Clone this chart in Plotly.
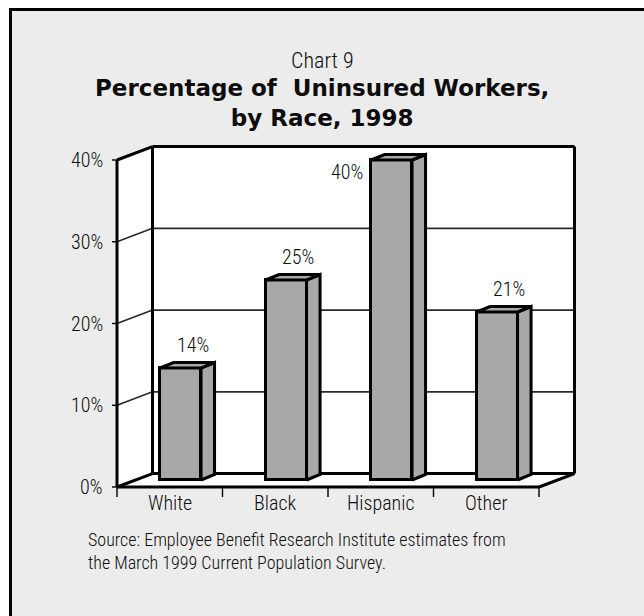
import plotly.graph_objects as go

# ---- data -------------------------------------------------------------
categories = ["White", "Black", "Hispanic", "Other"]
uninsured_pct = [14, 25, 40, 21]
tick_values = [0, 10, 20, 30, 40]
tick_labels = ["0%", "10%", "20%", "30%", "40%"]

chart_number = "Chart 9"
title_lines = ["Percentage of\u00a0 Uninsured Workers,", "by Race, 1998"]
source_lines = [
    "Source: Employee Benefit Research Institute estimates from",
    "the March 1999 Current Population Survey.",
]

# ---- geometry of the pseudo-3D box ----------------------------------------
W, H = 644, 616
CAT_PX = 105.5          # pixels per category on the front plane
CAT0_PX = 169.75        # pixel x of the first category centre
PCT_PX = 8.175          # pixels per percentage point (walls / axis)
BASE_PX = 487.0         # pixel y of 0 % on the front plane
BAR_PCT_PX = 8.0        # bars stand inside the box, slightly further back
BAR_BASE_PX = 480.0

x_range = [-CAT0_PX / CAT_PX, (W - CAT0_PX) / CAT_PX]
y_range = [(BASE_PX - H) / PCT_PX, BASE_PX / PCT_PX]
y2_range = [(BAR_BASE_PX - H) / BAR_PCT_PX, BAR_BASE_PX / BAR_PCT_PX]


def dx(p):
    return p / CAT_PX


def dy(p):
    return p / PCT_PX


def dy2(p):
    return p / BAR_PCT_PX


n = len(categories)
left, right = -0.5, n - 0.5
top = tick_values[-1]
DX, DY = dx(35.5), dy(13.4)            # depth of the box

BAR_SHIFT = dx(10.8)                   # bars sit back from the front edge
BAR_W = dx(41)
BAR_DX, BAR_DY = dx(13.5), dy2(5.5)    # depth of each bar

FILL = "#a8a8a8"
INK = "#0d0d0d"
NARROW = "Roboto Condensed, DejaVu Sans Condensed, sans-serif"
BOLD = "DejaVu Sans, Verdana, sans-serif"
TEXT_WEIGHT = 350

fig = go.Figure()

# front faces of the bars
centers = [i + BAR_SHIFT for i in range(n)]
fig.add_trace(go.Bar(
    x=centers, y=uninsured_pct, width=BAR_W, yaxis="y2",
    marker=dict(color=FILL, line=dict(color="black", width=3)),
    hoverinfo="skip", showlegend=False,
))

# side and top faces of the bars
for c, v in zip(centers, uninsured_pct):
    xl, xr = c - BAR_W / 2, c + BAR_W / 2
    side_x = [xr, xr + BAR_DX, xr + BAR_DX, xr, xr]
    side_y = [0, BAR_DY, v + BAR_DY, v, 0]
    top_x = [xl, xl + BAR_DX, xr + BAR_DX, xr, xl]
    top_y = [v, v + BAR_DY, v + BAR_DY, v, v]
    for px_, py_ in ((side_x, side_y), (top_x, top_y)):
        fig.add_trace(go.Scatter(
            x=px_, y=py_, yaxis="y2", mode="lines", fill="toself",
            fillcolor=FILL, line=dict(color="black", width=3),
            hoverinfo="skip", showlegend=False,
        ))

# ---- box: walls, floor, grid ----------------------------------------------
shapes = []


def poly(pts):
    return "M " + " L ".join(f"{x},{y}" for x, y in pts) + " Z"


def seg(x0, y0, x1, y1, width, color="black"):
    shapes.append(dict(type="line", xref="x", yref="y", x0=x0, y0=y0,
                       x1=x1, y1=y1, layer="below",
                       line=dict(color=color, width=width)))


# panel background with its frame (left and top edges show)
shapes.append(dict(type="rect", xref="paper", yref="paper",
                   x0=10.5 / W, x1=1.2, y0=-0.2, y1=1 - 9.5 / H,
                   fillcolor="#ececec", line=dict(color="black", width=3),
                   layer="below"))

for pts in (
    [(left + DX, DY), (right + DX, DY), (right + DX, top + DY), (left + DX, top + DY)],
    [(left, 0), (left + DX, DY), (left + DX, top + DY), (left, top)],
    [(left, 0), (right, 0), (right + DX, DY), (left + DX, DY)],
):
    shapes.append(dict(type="path", xref="x", yref="y", path=poly(pts),
                       fillcolor="white", line=dict(width=0), layer="below"))

for t in tick_values[1:-1]:
    seg(left + DX, t + DY, right + DX, t + DY, 1.6, "#2a2a2a")
    seg(left, t, left + DX, t + DY, 1.6, "#2a2a2a")

for t in tick_values:
    seg(left - dx(5), t, left, t, 1.4)
for b in range(n + 1):
    seg(b - 0.5, 0, b - 0.5, -dy(10), 1.4)

# heavy outline of the box
seg(left + DX, DY, right + DX, DY, 3)
seg(right + DX, DY, right + DX, top + DY, 3)
seg(left + DX, top + DY, right + DX, top + DY, 3)
seg(left + DX, DY, left + DX, top + DY, 3)
seg(left, 0, left, top, 3)
seg(left, top, left + DX, top + DY, 3)
seg(left, 0, left + DX, DY, 3)
seg(left, 0, right, 0, 3)
seg(right, 0, right + DX, DY, 3)

# ---- text -----------------------------------------------------------------
ann = []
for t, lab in zip(tick_values, tick_labels):
    ann.append(dict(x=left, y=t, xref="x", yref="y", text=lab, showarrow=False,
                    xanchor="right", yanchor="middle", xshift=-12,
                    font=dict(family=NARROW, size=20, color=INK, weight=TEXT_WEIGHT)))
for i, cat in enumerate(categories):
    ann.append(dict(x=i, y=0, xref="x", yref="y", text=cat, showarrow=False,
                    xanchor="center", yanchor="middle", yshift=-16,
                    font=dict(family=NARROW, size=20, color=INK, weight=TEXT_WEIGHT)))
for c, v in zip(centers, uninsured_pct):
    if v >= top:
        ann.append(dict(x=c - BAR_W / 2, y=v, xref="x", yref="y2", text=f"{v}%",
                        showarrow=False, xanchor="right", yanchor="middle",
                        xshift=-6, yshift=-12,
                        font=dict(family=NARROW, size=20, color=INK, weight=TEXT_WEIGHT)))
    else:
        ann.append(dict(x=c, y=v, xref="x", yref="y2", text=f"{v}%",
                        showarrow=False, xanchor="center", yanchor="middle",
                        xshift=12, yshift=23,
                        font=dict(family=NARROW, size=20, color=INK, weight=TEXT_WEIGHT)))

ann.append(dict(x=322 / W, y=1 - 61 / H, xref="paper", yref="paper",
                text=chart_number, showarrow=False, xanchor="center",
                yanchor="middle",
                font=dict(family=NARROW, size=22, color=INK, weight=TEXT_WEIGHT)))
ann.append(dict(x=322 / W, y=1 - 102.5 / H, xref="paper", yref="paper",
                text="<br>".join(title_lines), showarrow=False, xanchor="center",
                yanchor="middle", align="center",
                font=dict(family=BOLD, size=23, color=INK, weight="bold")))
ann.append(dict(x=86 / W, y=1 - 551 / H, xref="paper", yref="paper",
                text="<br>".join(source_lines), showarrow=False, xanchor="left",
                yanchor="middle", align="left",
                font=dict(family=NARROW, size=18, color=INK, weight=TEXT_WEIGHT)))

fig.update_layout(
    width=W, height=H, margin=dict(l=0, r=0, t=0, b=0),
    paper_bgcolor="white", plot_bgcolor="rgba(0,0,0,0)",
    xaxis=dict(type="linear", range=x_range, visible=False, fixedrange=True),
    yaxis=dict(range=y_range, visible=False, fixedrange=True),
    yaxis2=dict(range=y2_range, visible=False, overlaying="y", fixedrange=True),
    shapes=shapes, annotations=ann, bargap=0,
)

fig.write_html("out.html")
